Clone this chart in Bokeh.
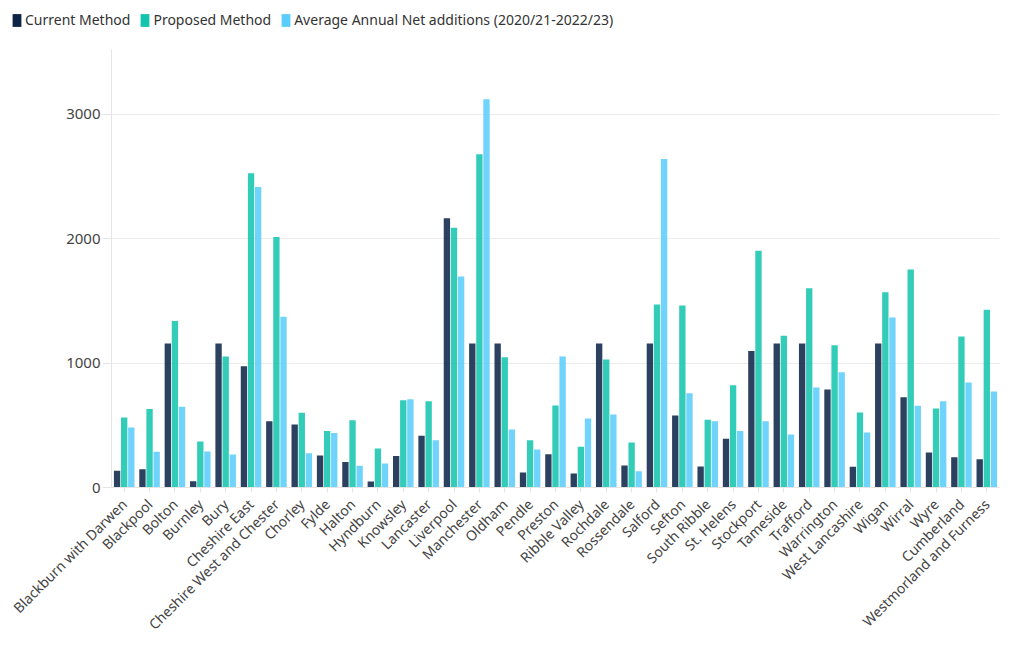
from bokeh.plotting import figure
from bokeh.models import ColumnDataSource, Legend, LegendItem, FixedTicker, Range1d
from bokeh.layouts import column
from bokeh.transform import dodge
from bokeh.embed import file_html
from bokeh.resources import INLINE
import math

categories = ["Blackburn with Darwen", "Blackpool", "Bolton", "Burnley", "Bury", "Cheshire East",
              "Cheshire West and Chester", "Chorley", "Fylde", "Halton", "Hyndburn", "Knowsley",
              "Lancaster", "Liverpool", "Manchester", "Oldham", "Pendle", "Preston", "Ribble Valley",
              "Rochdale", "Rossendale", "Salford", "Sefton", "South Ribble", "St. Helens", "Stockport",
              "Tameside", "Trafford", "Warrington", "West Lancashire", "Wigan", "Wirral", "Wyre",
              "Cumberland", "Westmorland and Furness"]

current_method = [134, 147, 1157, 51, 1157, 975, 533, 506, 257, 204, 48, 254, 415, 2164, 1157, 1157,
                  121, 268, 113, 1157, 177, 1157, 579, 168, 391, 1096, 1157, 1157, 788, 166, 1157, 726,
                  281, 244, 228]
proposed_method = [563, 630, 1339, 370, 1053, 2526, 2014, 600, 455, 541, 313, 702, 694, 2087, 2679, 1047,
                   380, 659, 327, 1029, 362, 1471, 1463, 545, 822, 1902, 1219, 1602, 1144, 603, 1570, 1752,
                   635, 1213, 1428]
avg_net_additions = [482, 287, 648, 289, 265, 2414, 1372, 276, 437, 174, 193, 710, 380, 1696, 3121, 466,
                     305, 1053, 554, 587, 131, 2641, 758, 532, 455, 533, 426, 804, 927, 442, 1366, 656,
                     694, 843, 771]

series_names = ["Current Method", "Proposed Method", "Average Annual Net additions (2020/21-2022/23)"]
y_ticks = [0, 1000, 2000, 3000]

colors = ["#0d2447", "#14c4ad", "#5bcdfb"]
FONT = "Noto Sans"
W = 1004

source = ColumnDataSource(dict(cat=categories, cur=current_method, prop=proposed_method, avg=avg_net_additions))

# ---- legend strip ----
lg = figure(width=W, height=41, output_backend="svg", toolbar_location=None,
            x_axis_location=None, y_axis_location=None,
            min_border=0, min_border_left=0, min_border_right=0, min_border_top=0, min_border_bottom=0,
            x_range=Range1d(0, 1), y_range=Range1d(0, 1))
lg.frame_align = False
lg.outline_line_color = None
lg.xgrid.visible = False
lg.ygrid.visible = False
items = []
for name, c in zip(series_names, colors):
    r = lg.vbar(x=[5], top=[5], bottom=[4], width=0.0, fill_color=c, line_color=None)
    items.append(LegendItem(label=name, renderers=[r]))
legend = Legend(items=items, orientation="horizontal", location=(11, 12),
                padding=0, margin=0, spacing=9, label_standoff=3,
                glyph_width=11, glyph_height=16,
                label_text_font=FONT, label_text_font_size="14px", label_text_color="#333333",
                background_fill_alpha=0, border_line_color=None)
lg.add_layout(legend, "center")

# ---- main chart ----
p = figure(x_range=categories, y_range=Range1d(0, 3520), width=W, height=604,
           output_backend="svg", toolbar_location=None,
           min_border_left=111, min_border_right=5, min_border_top=8, min_border_bottom=158)
p.frame_align = False
p.outline_line_color = None
p.x_range.range_padding = 0

offs = [-0.28, 0.0, 0.28]
cols = ["cur", "prop", "avg"]
for off, col, c in zip(offs, cols, colors):
    p.vbar(x=dodge("cat", off, range=p.x_range), top=col, width=0.25, source=source,
           fill_color=c, fill_alpha=0.87, line_color=None)

p.yaxis.ticker = FixedTicker(ticks=y_ticks)
p.yaxis.axis_line_color = "#e4e4e4"
p.yaxis.major_tick_line_color = "#e4e4e4"
p.yaxis.major_tick_out = 9
p.yaxis.major_tick_in = 0
p.yaxis.minor_tick_line_color = None
p.yaxis.major_label_standoff = 2
p.yaxis.major_label_text_font = FONT
p.yaxis.major_label_text_font_size = "15px"
p.yaxis.major_label_text_color = "#444444"

p.xaxis.axis_line_color = "#e4e4e4"
p.xaxis.major_tick_line_color = "#e4e4e4"
p.xaxis.major_tick_out = 5
p.xaxis.major_tick_in = 0
p.xaxis.major_label_orientation = math.pi / 4
p.xaxis.major_label_standoff = 9
p.xaxis.major_label_text_font = FONT
p.xaxis.major_label_text_font_size = "14px"
p.xaxis.major_label_text_color = "#444444"

p.xgrid.grid_line_color = None
p.ygrid.grid_line_color = "#ececec"
p.ygrid.grid_line_width = 1

layout = column(lg, p, spacing=0)
open("out.html", "w").write(file_html(layout, INLINE))
